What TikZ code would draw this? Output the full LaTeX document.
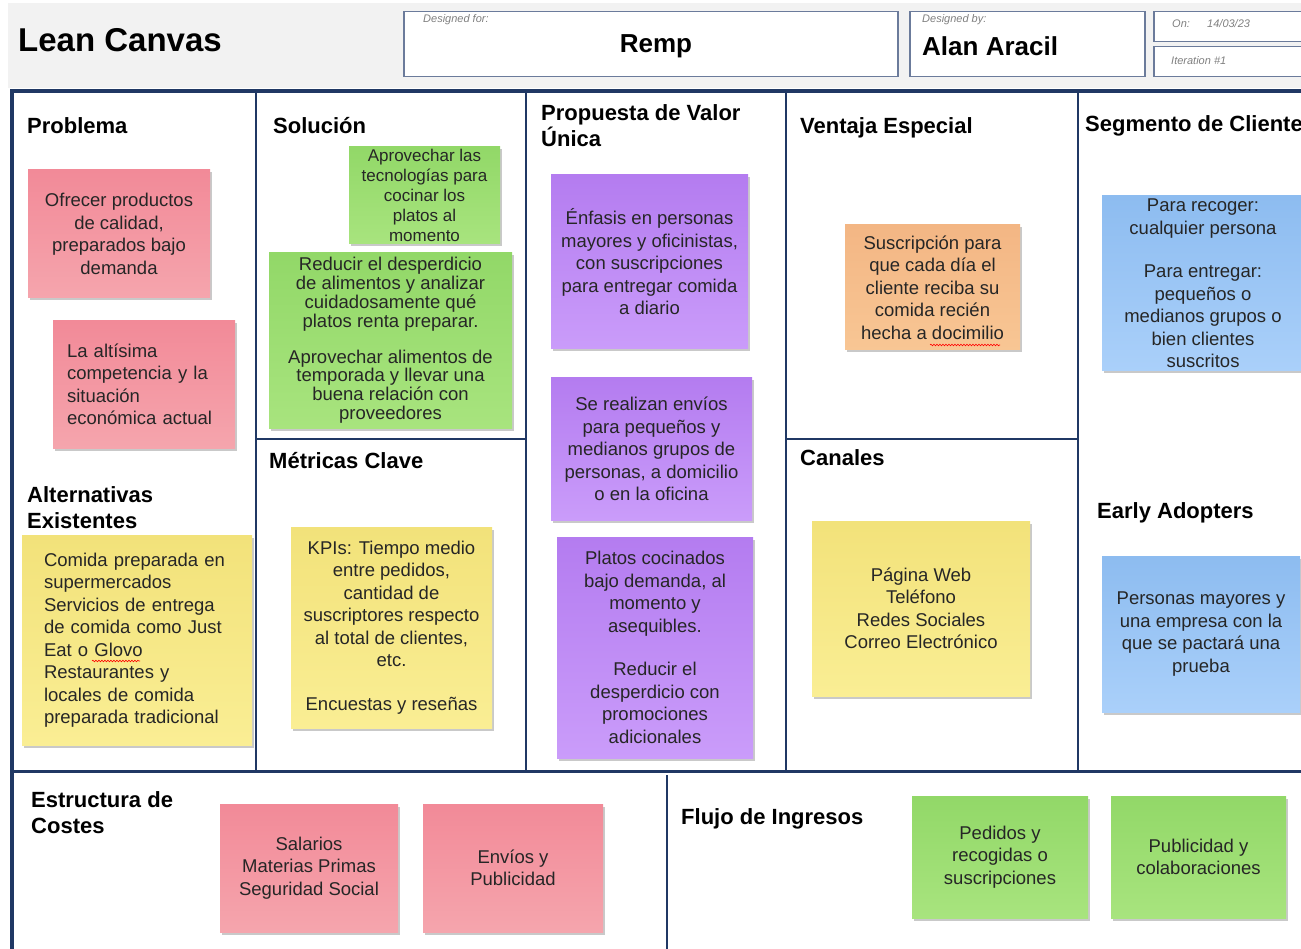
\documentclass[tikz,border=0pt]{standalone}
\usepackage{fontspec}
\setmainfont{Liberation Sans}
\usetikzlibrary{shadows,decorations.pathmorphing}
\definecolor{frameblue}{HTML}{203864}
\definecolor{boxline}{HTML}{6B7B9B}
\definecolor{headbg}{HTML}{F2F2F2}
\definecolor{notetext}{HTML}{262626}
\definecolor{pinktop}{HTML}{F28A98}
\definecolor{pinkbot}{HTML}{F5A5AD}
\definecolor{greentop}{HTML}{92D868}
\definecolor{greenbot}{HTML}{A8E47E}
\definecolor{yellowtop}{HTML}{F2E27A}
\definecolor{yellowbot}{HTML}{FAEE94}
\definecolor{purpletop}{HTML}{B47CF0}
\definecolor{purplebot}{HTML}{CA9CFA}
\definecolor{orangetop}{HTML}{F3B684}
\definecolor{orangebot}{HTML}{F8C694}
\definecolor{bluetop}{HTML}{8DBCF0}
\definecolor{bluebot}{HTML}{AAD0FA}

\begin{document}
\begin{tikzpicture}[x=1pt,y=-1pt,
    frame/.style={draw=frameblue, line width=2.5pt},
    heading/.style={anchor=north west, inner sep=0pt, align=left, font=\bfseries\fontsize{22}{26}\selectfont},
    headbox/.style={draw=boxline, line width=1.5pt, fill=white, anchor=north west, inner sep=0pt},
    small/.style={anchor=west, inner sep=0pt, text=gray, font=\itshape\fontsize{11}{13}\selectfont},
    sticky/.style 2 args={minimum width=#1pt, minimum height=#2pt, inner sep=0pt, align=center,
        text=notetext, font=\fontsize{18.5}{22.5}\selectfont,
        drop shadow={shadow xshift=2pt, shadow yshift=-2.5pt, opacity=0.3, fill=black!70}},
    pinknote/.style={top color=pinktop, bottom color=pinkbot},
    greennote/.style={top color=greentop, bottom color=greenbot},
    yellownote/.style={top color=yellowtop, bottom color=yellowbot},
    purplenote/.style={top color=purpletop, bottom color=purplebot},
    orangenote/.style={top color=orangetop, bottom color=orangebot},
    bluenote/.style={top color=bluetop, bottom color=bluebot},
    typo/.style={draw=red, line width=0.6pt, decorate, decoration={snake, amplitude=0.8pt, segment length=3pt}}
  ]
  \useasboundingbox (0,0) rectangle (1301,949);
  \clip (0,0) rectangle (1301,949);

  % header
  \fill[headbg] (8,3) rectangle (1305,88);
  \node[anchor=west, inner sep=0pt, font=\bfseries\fontsize{33}{38}\selectfont] (title) at (18,40) {Lean Canvas};
  \node[headbox, minimum width=494pt, minimum height=65pt] (forbox) at (403,11) {};
  \node[headbox, minimum width=235pt, minimum height=65pt] (bybox) at (909,11) {};
  \node[headbox, minimum width=155pt, minimum height=30pt] (onbox) at (1153,11) {};
  \node[headbox, minimum width=155pt, minimum height=30pt] (iterbox) at (1153,46) {};
  \node[small] (forlabel) at (423,20) {Designed for:};
  \node[small] (bylabel) at (922,20) {Designed by:};
  \node[small] (onlabel) at (1172,24) {On:};
  \node[small] (datelabel) at (1207,24) {14/03/23};
  \node[small] (iterlabel) at (1171,61) {Iteration \#1};
  \node[inner sep=0pt, font=\bfseries\fontsize{26}{30}\selectfont] (project) at (656,46) {Remp};
  \node[anchor=west, inner sep=0pt, font=\bfseries\fontsize{26}{30}\selectfont] (author) at (922,46) {Alan Aracil};

  % canvas grid
  \draw[frame] (256,91) -- (256,771);
  \draw[frame] (526,91) -- (526,771);
  \draw[frame] (786,91) -- (786,771);
  \draw[frame] (1078,91) -- (1078,771);
  \draw[frame] (256,439) -- (526,439);
  \draw[frame] (786,439) -- (1078,439);
  \draw[frame, line width=3pt] (12,771) -- (1305,771);
  \draw[frame] (667,775) -- (667,952);
  \draw[frame, line width=4pt] (12,952) -- (12,91) -- (1305,91);

  % headings
  \node[heading] (problema) at (27,117) {Problema};
  \node[heading] (solucion) at (273,117) {Solución};
  \node[heading] (propuesta) at (541,104) {Propuesta de Valor\\Única};
  \node[heading] (ventaja) at (800,117) {Ventaja Especial};
  \node[heading] (segmento) at (1085,115) {Segmento de Clientes};
  \node[heading] (alternativas) at (27,486) {Alternativas\\Existentes};
  \node[heading] (metricas) at (269,452) {Métricas Clave};
  \node[heading] (canales) at (800,449) {Canales};
  \node[heading] (early) at (1097,502) {Early Adopters};
  \node[heading] (costes) at (31,791) {Estructura de\\Costes};
  \node[heading] (ingresos) at (681,808) {Flujo de Ingresos};

  % sticky notes
  \node[sticky={182}{128}, pinknote] (prob1) at (119,234) {Ofrecer productos\\de calidad,\\preparados bajo\\demanda};
  \node[sticky={182}{127}, pinknote, align=left, text width=154pt] (prob2) at (144,384.5) {La altísima\\competencia y la\\situación\\económica actual};
  \node[sticky={230}{210}, yellownote, align=left, text width=186pt] (alt1) at (137,640) {Comida preparada en\\supermercados\\Servicios de entrega\\de comida como Just\\Eat o Glovo\\Restaurantes y\\locales de comida\\preparada tradicional};
  \node[sticky={151}{97}, greennote, font=\fontsize{17}{20}\selectfont] (sol1) at (424.5,195.5) {Aprovechar las\\tecnologías para\\cocinar los\\platos al\\momento};
  \node[sticky={243}{175}, greennote, font=\fontsize{18.5}{18.8}\selectfont] (sol2) at (390.5,340.5) {Reducir el desperdicio\\de alimentos y analizar\\cuidadosamente qué\\platos renta preparar.\\[17pt]Aprovechar alimentos de\\temporada y llevar una\\buena relación con\\proveedores};
  \node[sticky={201}{201}, yellownote] (met1) at (391.5,627.5) {KPIs: Tiempo medio\\entre pedidos,\\cantidad de\\suscriptores respecto\\al total de clientes,\\etc.\\[21pt]Encuestas y reseñas};
  \node[sticky={197}{174}, purplenote] (uvp1) at (649.5,262) {Énfasis en personas\\mayores y oficinistas,\\con suscripciones\\para entregar comida\\a diario};
  \node[sticky={201}{142}, purplenote] (uvp2) at (651.5,449) {Se realizan envíos\\para pequeños y\\medianos grupos de\\personas, a domicilio\\o en la oficina};
  \node[sticky={196}{221}, purplenote] (uvp3) at (655,647.5) {Platos cocinados\\bajo demanda, al\\momento y\\asequibles.\\[21pt]Reducir el\\desperdicio con\\promociones\\adicionales};
  \node[sticky={175}{125}, orangenote] (vent1) at (932.5,287.5) {Suscripción para\\que cada día el\\cliente reciba su\\comida recién\\hecha a docimilio};
  \node[sticky={218}{175}, yellownote] (can1) at (921,608.5) {Página Web\\Teléfono\\Redes Sociales\\Correo Electrónico};
  \node[sticky={202}{175}, bluenote] (seg1) at (1203,283.5) {Para recoger:\\cualquier persona\\[21pt]Para entregar:\\pequeños o\\medianos grupos o\\bien clientes\\suscritos};
  \node[sticky={198}{156}, bluenote] (early1) at (1201,634) {Personas mayores y\\una empresa con la\\que se pactará una\\prueba};
  \node[sticky={178}{128}, pinknote] (cost1) at (309,868) {Salarios\\Materias Primas\\Seguridad Social};
  \node[sticky={180}{128}, pinknote] (cost2) at (513,868) {Envíos y\\Publicidad};
  \node[sticky={176}{122}, greennote] (ing1) at (1000,857) {Pedidos y\\recogidas o\\suscripciones};
  \node[sticky={175}{122}, greennote] (ing2) at (1198.5,857) {Publicidad y\\colaboraciones};

  % spelling marks
  \draw[typo] (930,345) -- (1000,345);
  \draw[typo] (92,661) -- (140,661);
\end{tikzpicture}
\end{document}
